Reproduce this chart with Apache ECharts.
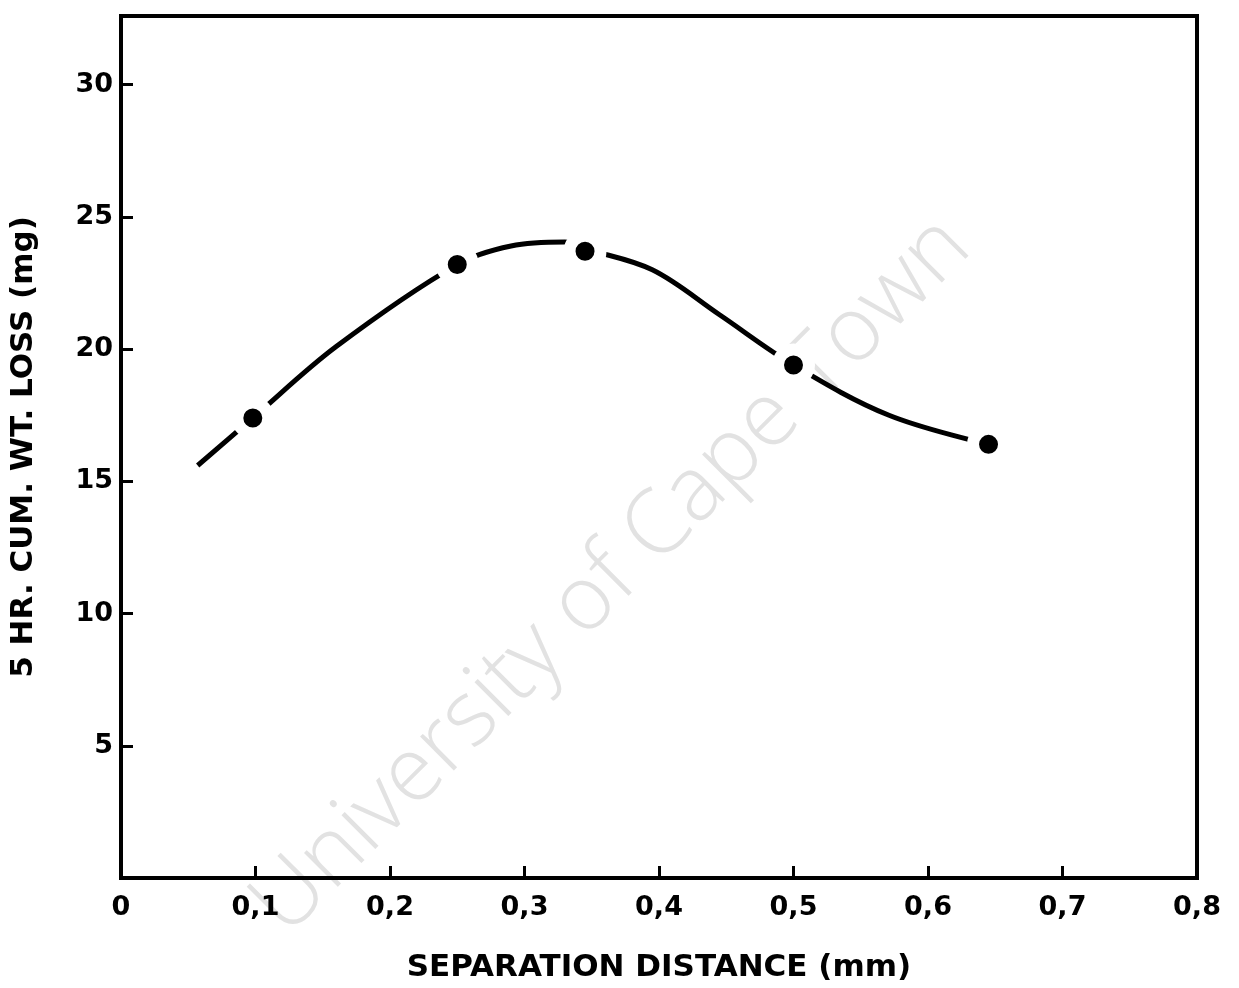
<!DOCTYPE html>
<html>
<head>
<meta charset="utf-8">
<script src="https://cdn.jsdelivr.net/npm/echarts@6/dist/echarts.min.js"></script>
<style>
  html, body { margin: 0; padding: 0; background: #fff; }
  #main { width: 1239px; height: 988px; }
</style>
</head>
<body>
<div id="main"></div>
<script>
// measured points (separation distance mm, 5 hr cumulative weight loss mg)
const pointX = [0.098, 0.25, 0.345, 0.5, 0.645];
const pointY = [17.4, 23.2, 23.7, 19.4, 16.4];

// hand drawn curve through the points
const curveX = [0.057, 0.098, 0.16, 0.25, 0.29, 0.33, 0.345, 0.395, 0.445, 0.5, 0.571, 0.645];
const curveY = [15.6, 17.4, 20.1, 23.2, 23.9, 24.05, 23.8, 23.0, 21.3, 19.4, 17.5, 16.4];

const yTicks = [5, 10, 15, 20, 25, 30];

const chart = echarts.init(document.getElementById('main'));

const font = 'DejaVu Sans';

const option = {
    backgroundColor: '#fff',
    animation: false,
    graphic: [{
        type: 'text',
        x: 612,
        y: 576,
        rotation: Math.PI / 4,
        z: 0,
        style: {
            text: 'University of Cape Town',
            font: '300 90px "Open Sans", "Liberation Sans", sans-serif',
            fill: '#e2e2e2',
            align: 'center',
            verticalAlign: 'middle'
        }
    }],
    grid: {
        left: 120,
        right: 42,
        top: 16,
        bottom: 106,
        show: true,
        borderColor: '#000',
        borderWidth: 4,
        backgroundColor: 'transparent'
    },
    xAxis: {
        type: 'value',
        min: 0,
        max: 0.8,
        interval: 0.1,
        name: 'SEPARATION DISTANCE (mm)',
        nameLocation: 'middle',
        nameGap: 74,
        nameTextStyle: { fontFamily: font, fontSize: 31, color: '#000', fontWeight: 'bold' },
        splitLine: { show: false },
        axisLine: { lineStyle: { color: '#000', width: 4 } },
        axisTick: { inside: true, length: 12, lineStyle: { color: '#000', width: 3 } },
        axisLabel: {
            margin: 16,
            fontFamily: font,
            fontSize: 27,
            fontWeight: 'bold',
            color: '#000',
            formatter: v => v === 0 ? '0' : v.toFixed(1).replace('.', ',')
        }
    },
    yAxis: {
        type: 'value',
        min: 0,
        max: 32.6,
        interval: 5,
        name: '5 HR. CUM. WT. LOSS (mg)',
        nameLocation: 'middle',
        nameGap: 82,
        nameTextStyle: { fontFamily: font, fontSize: 31, color: '#000', fontWeight: 'bold' },
        splitLine: { show: false },
        axisLine: { show: true, lineStyle: { color: '#000', width: 4 } },
        axisTick: { inside: true, length: 12, lineStyle: { color: '#000', width: 3 } },
        axisLabel: {
            margin: 8,
            fontFamily: font,
            fontSize: 27,
            fontWeight: 'bold',
            color: '#000',
            formatter: v => yTicks.indexOf(v) >= 0 ? String(v) : ''
        }
    },
    series: [
        {
            type: 'line',
            data: curveX.map((x, i) => [x, curveY[i]]),
            smooth: 0.35,
            showSymbol: false,
            lineStyle: { color: '#000', width: 5 },
            z: 2
        },
        {
            type: 'scatter',
            data: pointX.map((x, i) => [x, pointY[i]]),
            symbol: 'circle',
            symbolSize: 31,
            itemStyle: { color: '#000', borderColor: '#fff', borderWidth: 12, opacity: 1 },
            z: 3
        }
    ]
};

chart.setOption(option);
</script>
</body>
</html>
